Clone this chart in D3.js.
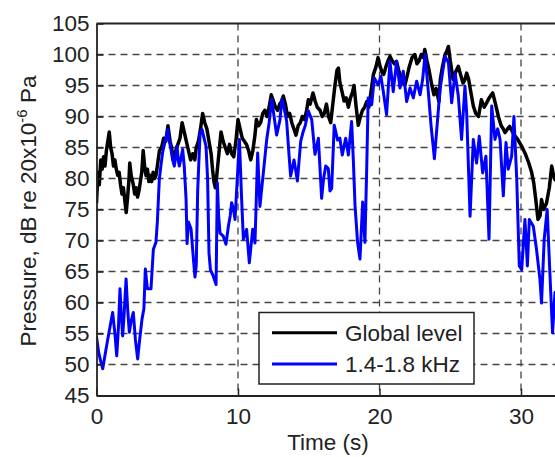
<!DOCTYPE html>
<html><head><meta charset="utf-8">
<script src="https://cdn.jsdelivr.net/npm/d3@7/dist/d3.min.js"></script>
<style>
html,body{margin:0;padding:0;background:#fff;overflow:hidden}
text{font-family:"Liberation Sans",Arial,Helvetica,sans-serif;fill:#222}
</style></head>
<body>
<svg id="chart" width="555" height="457"></svg>
<script>
const xTicks = [0, 10, 20, 30];
const yTicks = [45, 50, 55, 60, 65, 70, 75, 80, 85, 90, 95, 100, 105];
const seriesNames = ["Global level", "1.4-1.8 kHz"];

const globalTime = [0.0,0.1,0.2,0.3,0.4,0.5,0.6,0.7,0.8,0.9,1.0,1.1,1.2,1.3,1.4,1.5,1.6,1.7,1.8,1.9,2.0,2.1,2.2,2.3,2.35,2.45,2.6,2.7,2.8,2.9,3.0,3.1,3.2,3.3,3.4,3.5,3.6,3.7,3.8,3.9,4.0,4.1,4.2,4.3,4.45,4.6,4.75,4.9,5.05,5.2,5.3,5.45,5.6,5.75,5.9,6.05,6.2,6.35,6.5,6.65,6.8,6.95,7.05,7.2,7.35,7.5,7.65,7.8,7.95,8.1,8.2,8.3,8.4,8.5,8.65,8.8,8.95,9.1,9.25,9.4,9.55,9.7,9.85,10.0,10.15,10.3,10.45,10.6,10.75,10.9,11.05,11.2,11.3,11.45,11.6,11.75,11.9,12.05,12.2,12.35,12.5,12.65,12.8,12.95,13.1,13.2,13.35,13.5,13.65,13.8,13.95,14.1,14.25,14.4,14.55,14.7,14.85,14.97,15.1,15.3,15.45,15.6,15.8,15.95,16.1,16.25,16.4,16.55,16.7,16.85,17.0,17.1,17.2,17.35,17.5,17.65,17.8,17.95,18.1,18.2,18.35,18.5,18.65,18.8,18.95,19.1,19.25,19.4,19.57,19.75,19.9,20.05,20.2,20.3,20.45,20.6,20.74,20.9,21.05,21.2,21.35,21.5,21.65,21.8,21.95,22.1,22.3,22.5,22.65,22.8,22.95,23.1,23.2,23.35,23.5,23.7,23.85,24.0,24.2,24.3,24.45,24.63,24.75,24.87,25.0,25.2,25.35,25.57,25.7,25.9,26.05,26.16,26.3,26.45,26.63,26.8,27.0,27.2,27.4,27.57,27.75,27.9,28.0,28.2,28.4,28.6,28.75,28.87,29.05,29.2,29.4,29.6,29.8,30.05,30.3,30.55,30.75,30.9,31.05,31.2,31.35,31.45,31.6,31.8,32.0,32.17,32.3,32.4,32.5];
const globalLevel = [76,81,79,83,81.5,83.5,82,84.5,86,87.5,85,84,82,83,81.5,80.5,81,79,77.5,78.5,76.5,74.5,77,80,82.5,80.5,79,77.5,78.5,77,78,79.5,81,84.5,82,80.5,81.5,79.5,80.5,79.5,81,80,80.5,82,84.5,85,86.5,86,88.5,86,85,83,84.5,85.5,86.5,89,87.5,86,84.5,83,84,83,85,86,88,90.5,89,88,86,84,81.5,79.5,78.5,80.5,84,87.5,86,85,84,85.5,84,83.5,86,89.5,88,86.5,86,85.5,84.5,83,84.5,87,89.5,88.5,89,90.5,91,90,91.5,93.5,92.5,91.5,91,92,92.5,93.3,92,90,90.5,89,88,87,88.5,89,90,89.5,91,92.7,92,93.8,92.5,91.5,91,90,90.5,92,90,89,92,95,97.5,97.8,95.5,94,92.5,93,91.5,93,94,95,91.5,88.6,90,91,91.5,92.4,91.5,94,96.8,98,99.5,98,97,96.8,98,99,99.7,99,98.5,98.9,97.5,96.5,95.5,95.1,96.5,98,99.5,100,98.5,99,100,99.5,100.8,99,97.5,95,93.5,94.5,92.4,96,98,100,100.5,101.3,99,96,97,98.1,97,95.4,96,97,96,94,91.7,90.5,90,92.7,91.5,92.2,93,93.5,93.8,92,90,88.5,88,87.4,88,88.4,87.5,86.8,86.2,85.2,84,82.5,81,79.3,76.5,73.4,74,76.6,75,76,78.5,82,80.5,79.8,80];

const bandTime = [0.0,0.15,0.3,0.44,0.6,0.79,0.95,1.14,1.3,1.43,1.55,1.66,1.75,1.85,1.95,2.09,2.2,2.32,2.45,2.6,2.75,2.91,3.05,3.22,3.35,3.45,3.6,3.85,4.02,4.2,4.3,4.44,4.55,4.67,4.85,5.03,5.15,5.26,5.38,5.5,5.6,5.69,5.78,5.85,5.95,6.09,6.2,6.33,6.4,6.5,6.68,6.85,6.96,7.05,7.15,7.32,7.46,7.6,7.74,7.85,7.95,8.05,8.26,8.45,8.54,8.63,8.73,8.96,9.15,9.32,9.45,9.55,9.68,9.79,9.95,10.1,10.25,10.38,10.5,10.61,10.8,11.04,11.2,11.39,11.55,11.79,12.03,12.2,12.38,12.55,12.73,12.97,13.1,13.25,13.44,13.6,13.72,13.96,14.2,14.43,14.6,14.75,14.97,15.21,15.44,15.68,15.91,16.05,16.2,16.38,16.5,16.62,16.8,17.04,17.2,17.37,17.61,17.8,18.03,18.15,18.27,18.45,18.62,18.81,18.97,19.1,19.2,19.45,19.63,19.91,20.1,20.27,20.5,20.74,20.97,21.21,21.45,21.68,21.92,22.16,22.39,22.63,22.87,23.05,23.22,23.45,23.64,23.88,24.11,24.28,24.45,24.63,24.87,25.1,25.34,25.57,25.8,26.04,26.16,26.4,26.63,26.86,27.05,27.29,27.52,27.74,27.93,28.16,28.35,28.52,28.75,28.94,29.1,29.34,29.5,29.7,29.88,30.05,30.28,30.45,30.59,30.87,31.1,31.34,31.45,31.64,31.85,32.04,32.23,32.4,32.5];
const bandLevel = [54.5,52,50.5,49.3,51.5,54,56,58.4,55,51.4,56,62.2,58,54.6,58,63.8,59,55.2,57,58.4,54,50.9,54,57.4,59,65.4,62.2,62.2,68.6,69.7,73,79.9,82,84.2,86,87.9,86,84.7,83,82,83.5,85.2,83,82,83,84.7,82,76.7,69.5,73,71.9,67,64.1,66,78,87.4,87.9,86.5,85.2,80,68,65.3,64.2,62.9,79.3,74,71.2,70.7,69.4,72.3,74,76.1,75,73.4,80,86.3,77,70.2,71,71.8,66.4,71.8,69.6,84.1,75.5,80.9,86.3,89,92.8,90,87,89.5,92.8,91.5,89.2,84,80.4,83,79.6,86,87.5,88.5,90.9,89.5,83.9,86.5,76.8,80,82,81.6,78,78.4,88.6,86.2,86.5,83.8,86.5,83.8,89.2,83,75.7,69.7,67,76.2,69.7,82,93,91.9,96.2,95.1,96.5,94,90.3,98.9,94,98.9,94.6,97.3,92.4,94.6,93,95.7,93.5,96,100,94,88.6,83.2,89.7,94.4,97,99.7,98.7,92.2,97,93.3,86.3,94.9,90.6,73.9,86.3,82.5,86.8,80.9,83.6,70.2,91.7,86.3,88,86.3,77.2,85.8,81.5,83.6,90,79.8,65.9,65.3,73.4,65.9,73.4,72.3,68.5,63.7,59.9,70.2,75,64.8,55.1,61.6,58];

const svg = d3.select("#chart");
const x = d3.scaleLinear().domain([0, 35]).range([96.5, 96.5 + 35 * 14.15]);
const y = d3.scaleLinear().domain([45, 105]).range([395.5, 23.5]);
const x0 = x(0), x1 = x(35), yTop = y(105), yBot = y(45);

// grid
const grid = svg.append("g").attr("stroke", "#444").attr("stroke-width", 1.3).attr("stroke-dasharray", "7,5");
yTicks.filter(v => v > 45 && v < 105).forEach(v => {
  grid.append("line").attr("x1", x0).attr("x2", x1).attr("y1", y(v)).attr("y2", y(v));
});
xTicks.filter(v => v > 0).forEach(v => {
  grid.append("line").attr("x1", x(v)).attr("x2", x(v)).attr("y1", yTop).attr("y2", yBot);
});

// clip
svg.append("clipPath").attr("id", "plotclip").append("rect")
  .attr("x", x0).attr("y", yTop).attr("width", x1 - x0).attr("height", yBot - yTop);

const line = d3.line().x(d => x(d[0])).y(d => y(d[1]));
const gData = globalTime.map((t, i) => [t, globalLevel[i]]);
const bData = bandTime.map((t, i) => [t, bandLevel[i]]);

svg.append("path").datum(gData).attr("clip-path", "url(#plotclip)")
  .attr("d", line).attr("fill", "none").attr("stroke", "#000").attr("stroke-width", 3.5).attr("stroke-linejoin", "round");
svg.append("path").datum(bData).attr("clip-path", "url(#plotclip)")
  .attr("d", line).attr("fill", "none").attr("stroke", "#0000ff").attr("stroke-width", 3).attr("stroke-linejoin", "round");

// axes
const xAxis = d3.axisBottom(x).tickValues(xTicks).tickSize(-7).tickPadding(13).tickSizeOuter(0);
const yAxis = d3.axisLeft(y).tickValues(yTicks).tickSize(-7).tickPadding(7).tickSizeOuter(0);
const gx = svg.append("g").attr("transform", `translate(0,${yBot})`).call(xAxis);
const gy = svg.append("g").attr("transform", `translate(${x0},0)`).call(yAxis);
[gx, gy].forEach(g => {
  g.select(".domain").attr("stroke", "#222").attr("stroke-width", 1.8);
  g.selectAll(".tick line").attr("stroke", "#222").attr("stroke-width", 1.5);
  g.selectAll(".tick text").attr("font-size", 22.5).attr("fill", "#222")
    .style("font-family", '"Liberation Sans",Arial,sans-serif');
});
gx.selectAll(".tick text").attr("dy", "0.71em");
// top border
svg.append("line").attr("x1", x0).attr("x2", x1).attr("y1", yTop).attr("y2", yTop)
  .attr("stroke", "#222").attr("stroke-width", 1.8);

// axis titles
svg.append("text").attr("x", 328).attr("y", 450).attr("text-anchor", "middle")
  .attr("font-size", 22.5).text("Time (s)");
const yl = svg.append("text").attr("transform", "translate(36,211) rotate(-90)")
  .attr("text-anchor", "middle").attr("font-size", 22.5);
yl.append("tspan").text("Pressure, dB re 20x10");
yl.append("tspan").attr("dy", -9).attr("font-size", 15).text("-6");
yl.append("tspan").attr("dy", 9).text(" Pa");

// legend
const lg = svg.append("g");
lg.append("rect").attr("x", 259).attr("y", 312.5).attr("width", 215).attr("height", 71.5)
  .attr("fill", "#fff").attr("stroke", "#222").attr("stroke-width", 1.5);
const lc = ["#000", "#0000ff"];
seriesNames.forEach((n, i) => {
  const yy = 332.7 + i * 31.3;
  lg.append("line").attr("x1", 272).attr("x2", 337).attr("y1", yy).attr("y2", yy)
    .attr("stroke", lc[i]).attr("stroke-width", 3);
  lg.append("text").attr("x", 345).attr("y", yy + 8).attr("font-size", 22.5).text(n);
});
</script>
</body></html>
